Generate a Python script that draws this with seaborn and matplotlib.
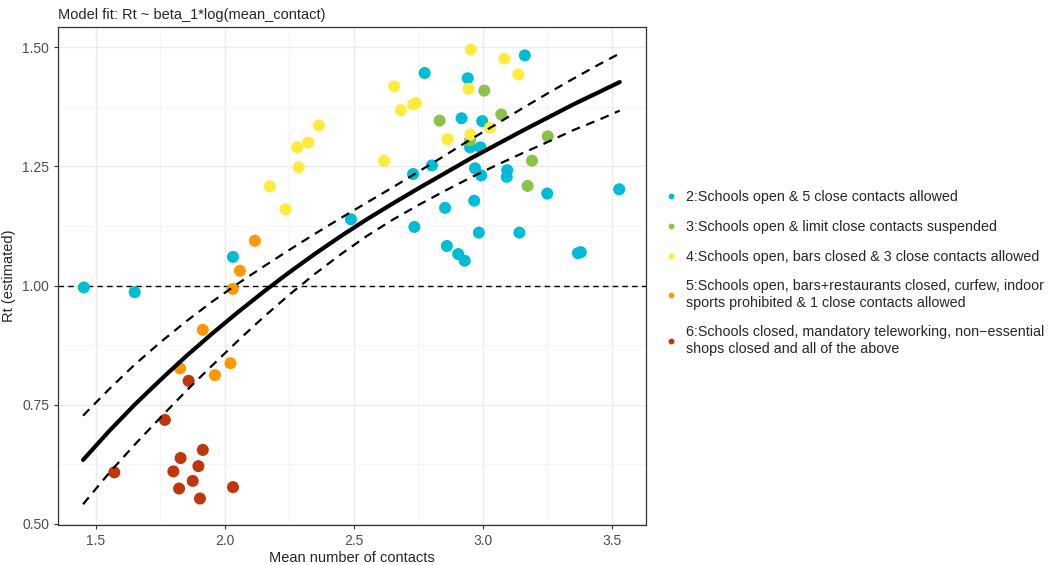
import matplotlib.pyplot as plt
import seaborn as sns
import pandas as pd
from matplotlib.lines import Line2D

# --- data ---
groups = [
    "2:Schools open & 5 close contacts allowed",
    "3:Schools open & limit close contacts suspended",
    "4:Schools open, bars closed & 3 close contacts allowed",
    "5:Schools open, bars+restaurants closed, curfew, indoor\nsports prohibited & 1 close contacts allowed",
    "6:Schools closed, mandatory teleworking, non\u2212essential\nshops closed and all of the above",
]
colors = ["#00BCD4", "#8BC34A", "#FFEB3B", "#FF9800", "#BF360C"]

cyan_x = [1.453, 1.650, 2.031, 2.488, 2.774, 2.941, 2.917, 2.997, 2.950, 2.990,
          2.802, 2.729, 2.969, 2.993, 3.094, 3.092, 3.249, 3.528, 2.853, 2.966,
          2.734, 2.984, 3.141, 2.860, 2.904, 2.929, 3.368, 3.379, 3.162]
cyan_y = [0.996, 0.986, 1.060, 1.139, 1.446, 1.435, 1.351, 1.345, 1.290, 1.290,
          1.252, 1.234, 1.246, 1.231, 1.242, 1.228, 1.193, 1.202, 1.163, 1.178,
          1.123, 1.111, 1.111, 1.083, 1.066, 1.052, 1.068, 1.070, 1.483]

green_x = [3.005, 2.832, 3.071, 2.950, 3.251, 3.190, 3.173]
green_y = [1.409, 1.346, 1.359, 1.305, 1.313, 1.262, 1.209]

yellow_x = [2.364, 2.323, 2.280, 2.286, 2.174, 2.235, 2.953, 3.083, 3.137, 2.944,
            2.656, 2.682, 2.729, 2.740, 3.027, 2.862, 2.951, 2.617]
yellow_y = [1.336, 1.300, 1.290, 1.248, 1.208, 1.160, 1.495, 1.476, 1.443, 1.413,
            1.418, 1.368, 1.380, 1.383, 1.331, 1.307, 1.317, 1.262]

orange_x = [2.116, 2.058, 2.030, 1.914, 1.826, 1.961, 2.021]
orange_y = [1.094, 1.031, 0.993, 0.907, 0.826, 0.812, 0.837]

red_x = [1.859, 1.767, 1.571, 1.914, 1.828, 1.800, 1.897, 1.875, 1.822, 1.903, 2.031]
red_y = [0.800, 0.718, 0.608, 0.655, 0.638, 0.610, 0.621, 0.590, 0.574, 0.553, 0.577]

# fitted curve and its band
fit_x = [1.45, 1.55, 1.65, 1.75, 1.85, 1.95, 2.05, 2.15, 2.25, 2.35, 2.45,
         2.55, 2.65, 2.75, 2.85, 2.95, 3.05, 3.15, 3.25, 3.35, 3.45, 3.53]
fit_y = [0.634, 0.694, 0.750, 0.802, 0.852, 0.899, 0.944, 0.987, 1.028, 1.067, 1.104,
         1.139, 1.172, 1.204, 1.235, 1.266, 1.295, 1.324, 1.352, 1.380, 1.406, 1.427]
upper_y = [0.727, 0.782, 0.834, 0.881, 0.925, 0.966, 1.004, 1.040, 1.075, 1.109, 1.142,
           1.174, 1.206, 1.239, 1.272, 1.306, 1.338, 1.371, 1.403, 1.434, 1.464, 1.487]
lower_y = [0.541, 0.606, 0.666, 0.723, 0.779, 0.832, 0.884, 0.934, 0.981, 1.025, 1.066,
           1.104, 1.138, 1.169, 1.198, 1.226, 1.252, 1.277, 1.301, 1.326, 1.348, 1.367]

rows = []
for g, xs, ys in zip(groups, [cyan_x, green_x, yellow_x, orange_x, red_x],
                     [cyan_y, green_y, yellow_y, orange_y, red_y]):
    for a, b in zip(xs, ys):
        rows.append({"mean_contact": a, "Rt": b, "group": g})
df = pd.DataFrame(rows)
curve = pd.DataFrame({"x": fit_x, "fit": fit_y, "upper": upper_y, "lower": lower_y})

sns.set_style("ticks")
plt.rcParams["font.family"] = ["Liberation Sans", "DejaVu Sans"]

fig = plt.figure(figsize=(10.61, 5.65), dpi=100)
ax = fig.add_axes([0.0547, 0.0708, 0.5542, 0.8814])

ax.axhline(1.0, color="black", lw=1.0, ls=(0, (4, 3)), zorder=1)

sns.scatterplot(data=df, x="mean_contact", y="Rt", hue="group",
                hue_order=groups, palette=colors, s=75, edgecolor="none",
                legend=False, ax=ax, zorder=3)

sns.lineplot(data=curve, x="x", y="fit", color="black", lw=3.0, ax=ax, zorder=4)
sns.lineplot(data=curve, x="x", y="upper", color="black", lw=1.6,
             ax=ax, zorder=4, dashes=False, linestyle=(0, (4, 3)))
sns.lineplot(data=curve, x="x", y="lower", color="black", lw=1.6,
             ax=ax, zorder=4, dashes=False, linestyle=(0, (4, 3)))

ax.set_xlim(1.353, 3.632)
ax.set_ylim(0.4975, 1.5425)
ax.set_xticks([1.5, 2.0, 2.5, 3.0, 3.5])
ax.set_xticks([1.75, 2.25, 2.75, 3.25], minor=True)
ax.set_yticks([0.5, 0.75, 1.0, 1.25, 1.5])
ax.set_yticks([0.625, 0.875, 1.125, 1.375], minor=True)
ax.set_yticklabels(["0.50", "0.75", "1.00", "1.25", "1.50"])
ax.grid(which="major", color="#EBEBEB", lw=1.0, zorder=0)
ax.grid(which="minor", color="#F3F3F3", lw=0.6, zorder=0)
ax.set_axisbelow(True)
ax.tick_params(which="major", length=3, color="#333333", labelsize=10,
               labelcolor="#4D4D4D", width=0.8)
ax.tick_params(which="minor", length=0)
for sp in ax.spines.values():
    sp.set_color("#333333")
    sp.set_linewidth(0.9)

ax.set_xlabel("Mean number of contacts", fontsize=10.5, labelpad=2)
ax.set_ylabel("Rt (estimated)", fontsize=10.5, labelpad=4)
ax.set_title("Model fit: Rt ~ beta_1*log(mean_contact)", loc="left",
             fontsize=10.5, pad=6)

handles = [Line2D([], [], ls="", marker="o", markersize=3.2, color=c) for c in colors]
fig.legend(handles, groups, loc="center left", bbox_to_anchor=(0.616, 0.517),
           frameon=False, fontsize=10.3, handlelength=0.6, handletextpad=0.8,
           labelspacing=1.1)

fig.savefig("out.png", dpi=100)
